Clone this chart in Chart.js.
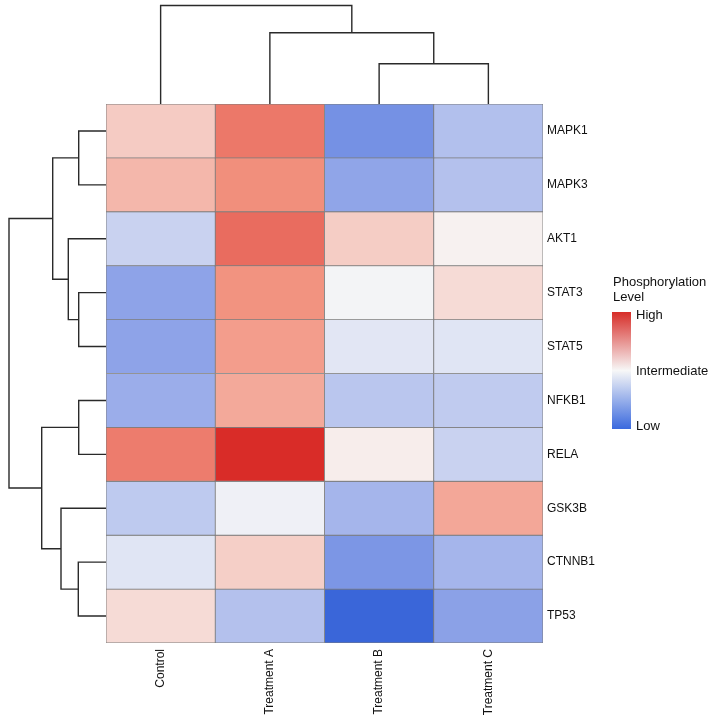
<!DOCTYPE html>
<html>
<head>
<meta charset="utf-8">
<script src="https://cdn.jsdelivr.net/npm/chart.js@4"></script>
<style>
  body { margin: 0; background: #fff; }
  #wrap { position: relative; width: 717px; height: 717px; }
  canvas { position: absolute; }
</style>
</head>
<body>
<div id="wrap">
  <canvas id="heat" width="717" height="717" style="left:0;top:0"></canvas>
  <canvas id="topTree" width="437" height="104" style="left:106px;top:0"></canvas>
  <canvas id="leftTree" width="106" height="539" style="left:0;top:104px"></canvas>
</div>
<script>
// columns and rows of the heatmap
const columns = ['Control', 'Treatment A', 'Treatment B', 'Treatment C'];
const genes = ['MAPK1', 'MAPK3', 'AKT1', 'STAT3', 'STAT5', 'NFKB1', 'RELA', 'GSK3B', 'CTNNB1', 'TP53'];

// scaled phosphorylation (-1 = low, 0 = intermediate, 1 = high), one list per column
const control    = [0.22, 0.32, -0.22, -0.50, -0.50, -0.44, 0.61, -0.27, -0.11, 0.14];
const treatmentA = [0.63, 0.52, 0.69, 0.50, 0.45, 0.39, 1.00, -0.04, 0.20, -0.32];
const treatmentB = [-0.65, -0.49, 0.21, -0.02, -0.10, -0.29, 0.05, -0.39, -0.61, -1.00];
const treatmentC = [-0.33, -0.32, 0.03, 0.14, -0.11, -0.26, -0.22, 0.40, -0.39, -0.52];

// dendrograms: [childA, childB, height], new nodes numbered after the leaves
const colMerges = [[2, 3, 40.2], [1, 4, 71.2], [0, 5, 98.5]];
const rowMerges = [[0, 1, 27.3], [3, 4, 27.3], [2, 11, 37.7], [10, 12, 53.3],
                   [5, 6, 27.3], [8, 9, 27.7], [7, 15, 45], [14, 16, 64.3], [13, 17, 97]];

const legendTitle = ['Phosphorylation', 'Level'];
const legendLabels = ['High', 'Intermediate', 'Low'];

const FONT = '"Liberation Sans", Arial, sans-serif';
const values = [control, treatmentA, treatmentB, treatmentC];

// colour ramp
const stops = [
  [-1, [58, 102, 217]],
  [-0.5, [142, 163, 232]],
  [0, [247, 247, 247]],
  [0.5, [242, 147, 128]],
  [1, [217, 44, 40]]
];
function colorFor(v) {
  for (let i = 0; i < stops.length - 1; i++) {
    const [a, ca] = stops[i], [b, cb] = stops[i + 1];
    if (v <= b || i === stops.length - 2) {
      const t = Math.max(0, Math.min(1, (v - a) / (b - a)));
      const c = ca.map((x, k) => Math.round(x + (cb[k] - x) * t));
      return `rgb(${c[0]},${c[1]},${c[2]})`;
    }
  }
}

// heatmap as stacked bars, one dataset per gene row
const heatSets = genes.map((g, r) => ({
  label: g,
  data: columns.map(() => 1),
  backgroundColor: columns.map((c, ci) => colorFor(values[ci][r])),
  borderColor: '#7c7c7c',
  borderWidth: 0.8,
  borderSkipped: false,
  barPercentage: 1,
  categoryPercentage: 1
}));

const legendPlugin = {
  id: 'colorLegend',
  afterDraw(chart) {
    const ctx = chart.ctx;
    const x = 612, top = 312, w = 19, h = 117;
    ctx.save();
    const grad = ctx.createLinearGradient(0, top, 0, top + h);
    grad.addColorStop(0, 'rgb(215,45,40)');
    grad.addColorStop(0.5, 'rgb(247,247,247)');
    grad.addColorStop(1, 'rgb(58,105,222)');
    ctx.fillStyle = grad;
    ctx.fillRect(x, top, w, h);
    ctx.fillStyle = '#111';
    ctx.font = '13px ' + FONT;
    ctx.textBaseline = 'middle';
    ctx.textAlign = 'left';
    ctx.fillText(legendTitle[0], 613, 282);
    ctx.fillText(legendTitle[1], 613, 297);
    ctx.fillText(legendLabels[0], 636, 315);
    ctx.fillText(legendLabels[1], 636, 371);
    ctx.fillText(legendLabels[2], 636, 426);
    ctx.restore();
  }
};

new Chart(document.getElementById('heat'), {
  type: 'bar',
  data: { labels: columns, datasets: heatSets },
  options: {
    responsive: false,
    animation: false,
    layout: { padding: { left: 106, top: 104, right: 0, bottom: 0 } },
    plugins: { legend: { display: false }, tooltip: { enabled: false } },
    scales: {
      x: {
        stacked: true,
        grid: { display: false, drawTicks: false },
        border: { display: false },
        ticks: { minRotation: 90, maxRotation: 90, padding: 6, color: '#111', font: { family: FONT, size: 12 } },
        afterFit(s) { s.height = 74; }
      },
      y: {
        stacked: true,
        position: 'right',
        min: 0, max: genes.length,
        reverse: true,
        grid: { display: false, drawTicks: false },
        border: { display: false },
        afterBuildTicks(s) { s.ticks = genes.map((g, i) => ({ value: i + 0.5 })); },
        ticks: {
          autoSkip: false,
          padding: 4,
          color: '#111',
          font: { family: FONT, size: 12 },
          callback: (v, i) => genes[i]
        },
        afterFit(s) { s.width = 174; }
      }
    }
  },
  plugins: [legendPlugin]
});

// turn merges into elbow segments
function treeSegments(nLeaves, merges) {
  const pos = [], hgt = [];
  for (let i = 0; i < nLeaves; i++) { pos.push(i + 0.5); hgt.push(0); }
  const segs = [];
  merges.forEach(([a, b, h]) => {
    segs.push([[pos[a], hgt[a]], [pos[a], h], [pos[b], h], [pos[b], hgt[b]]]);
    pos.push((pos[a] + pos[b]) / 2);
    hgt.push(h);
  });
  return segs;
}

const lineStyle = { showLine: true, pointRadius: 0, borderColor: '#2a2a2a', borderWidth: 1.4, fill: false, clip: false };
const treeOpts = (xs, ys) => ({
  responsive: false,
  animation: false,
  layout: { padding: 0 },
  plugins: { legend: { display: false }, tooltip: { enabled: false } },
  scales: { x: Object.assign({ type: 'linear', display: false }, xs), y: Object.assign({ type: 'linear', display: false }, ys) }
});

new Chart(document.getElementById('topTree'), {
  type: 'scatter',
  data: {
    datasets: treeSegments(columns.length, colMerges).map(s => Object.assign({
      data: s.map(([p, h]) => ({ x: p, y: h }))
    }, lineStyle))
  },
  options: treeOpts({ min: 0, max: columns.length }, { min: 0, max: 104 })
});

new Chart(document.getElementById('leftTree'), {
  type: 'scatter',
  data: {
    datasets: treeSegments(genes.length, rowMerges).map(s => Object.assign({
      data: s.map(([p, h]) => ({ x: h, y: p }))
    }, lineStyle))
  },
  options: treeOpts({ min: 0, max: 106, reverse: true }, { min: 0, max: genes.length, reverse: true })
});
</script>
</body>
</html>
